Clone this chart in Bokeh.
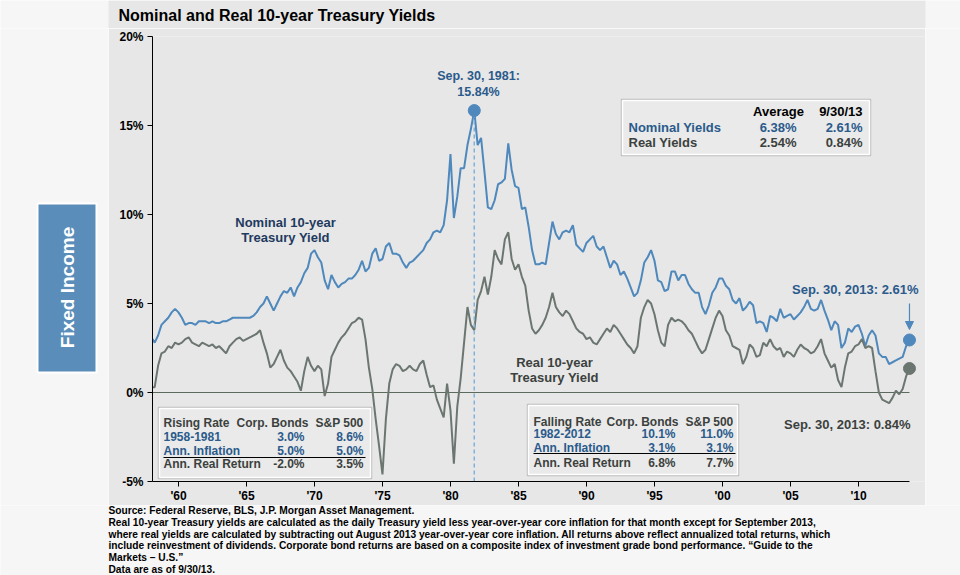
import math
from bokeh.plotting import figure
from bokeh.layouts import row, column
from bokeh.models import Range1d, FixedTicker, Label, Arrow, NormalHead
from bokeh.embed import file_html
from bokeh.resources import INLINE

# ---------------- data (quarterly readings, 1958 Q1 .. 2013 Q3) ----------------
years = list(range(1958, 2014))
quarters = [0.0, 0.25, 0.5, 0.75]

nominal_yield = [
    3.1, 2.8, 3.2, 3.8,   4.0, 4.2, 4.5, 4.7,   4.5, 4.2, 3.8, 3.9,   3.9, 3.8, 4.0, 4.0,
    4.0, 3.9, 4.0, 3.9,   3.9, 4.0, 4.0, 4.1,   4.2, 4.2, 4.2, 4.2,   4.2, 4.2, 4.3, 4.5,
    4.8, 5.0, 5.4, 5.0,   4.6, 5.0, 5.4, 5.7,   5.6, 5.9, 5.4, 5.9,   6.2, 6.7, 7.0, 7.8,
    8.0, 7.6, 7.3, 6.3,   5.8, 6.6, 6.2, 5.9,   6.1, 6.2, 6.4, 6.4,   6.6, 6.9, 7.4, 6.8,
    7.0, 7.8, 8.1, 7.4,   7.5, 8.2, 8.4, 7.8,   7.8, 7.7, 7.3, 7.0,   7.3, 7.4, 7.6, 7.8,
    8.0, 8.4, 8.6, 9.0,   9.1, 9.0, 9.4, 10.8,  13.4, 9.8, 11.0, 12.6, 12.6, 13.9, 14.8, 15.84,
    13.9, 14.3, 12.4, 10.4, 10.3, 10.8, 11.7, 11.8, 12.0, 14.0, 12.5, 11.6, 11.5, 10.3, 10.4, 9.3,
    8.0, 7.2, 7.2, 7.3,   7.2, 8.4, 9.6, 8.9,   8.6, 9.0, 9.1, 9.0,   9.4, 8.3, 8.1, 7.9,
    8.4, 8.6, 8.8, 8.2,   8.0, 8.2, 7.6, 7.0,   7.4, 7.2, 6.6, 6.8,   6.4, 5.9, 5.4, 5.6,
    6.3, 7.3, 7.6, 8.0,   7.4, 6.3, 6.2, 5.7,   5.8, 6.8, 6.8, 6.3,   6.6, 6.6, 6.1, 5.8,
    5.6, 5.6, 4.8, 4.4,   4.9, 5.6, 5.9, 6.4,   6.4, 6.0, 5.8, 5.2,   5.0, 5.3, 4.6, 4.8,
    5.1, 4.9, 3.9, 4.0,   3.9, 3.4, 4.3, 4.2,   4.0, 4.7, 4.2, 4.3,   4.4, 4.1, 4.3, 4.5,
    4.8, 5.2, 4.7, 4.6,   4.7, 5.2, 4.6, 4.1,   3.5, 4.0, 3.8, 2.5,   2.8, 3.6, 3.4, 3.7,
    3.8, 3.3, 2.6, 3.2,   3.5, 3.2, 2.2, 2.0,   2.0, 1.6, 1.7, 1.8,   1.9, 2.0, 2.6, 2.95,
]

real_yield = [
    0.3, 0.3, 1.5, 2.2,   2.3, 2.6, 2.5, 2.8,   2.7, 2.8, 3.0, 3.1,   2.8, 2.7, 2.6, 2.8,
    2.7, 2.6, 2.7, 2.5,   2.6, 2.4, 2.2, 2.6,   2.8, 3.0, 3.1, 2.9,   3.0, 3.1, 3.2, 3.3,
    3.5, 2.8, 2.2, 1.4,   1.6, 2.0, 2.4, 1.8,   1.4, 1.2, 0.9, 0.6,   0.1, 1.2, 2.0, 1.5,
    1.2, 1.5, 1.3, -0.2,  0.5, 2.0, 2.4, 2.8,   3.1, 3.3, 3.6, 3.9,   4.0, 4.2, 4.1, 3.0,
    1.4, 0.2, -1.5, -3.0, -4.6, -1.5, 0.5, 1.3, 1.6, 1.5, 1.2, 1.3,   1.5, 1.3, 1.2, 1.6,
    1.8, 1.0, 0.3, 0.4,   -0.4, -0.9, -1.4, 0.5, -1.0, -4.0, -0.8, 0.8, 2.8, 4.8, 3.8, 3.5,
    5.2, 5.7, 6.5, 5.5,   6.5, 8.0, 7.5, 7.2,   8.6, 9.0, 7.5, 6.9,   7.2, 6.5, 6.0, 4.6,
    3.6, 3.3, 3.5, 3.8,   4.2, 4.8, 5.6, 4.8,   4.5, 4.3, 4.6, 4.4,   4.0, 3.6, 3.4, 3.3,
    3.0, 3.1, 2.8, 2.7,   3.0, 3.3, 3.6, 3.4,   3.8, 3.6, 3.3, 3.0,   2.7, 2.5, 2.2, 2.6,
    4.2, 4.8, 5.2, 5.0,   4.4, 3.5, 2.8, 2.6,   3.8, 4.2, 4.0, 4.1,   4.0, 3.8, 3.5, 3.3,
    2.9, 2.5, 2.2, 2.4,   3.0, 3.6, 4.2, 4.6,   4.3, 3.5, 3.2, 2.6,   2.5, 2.4, 1.6, 2.0,
    2.7, 2.5, 2.0, 2.1,   2.8, 2.6, 3.0, 2.6,   2.4, 2.5, 2.0, 2.3,   2.2, 2.0, 2.4, 2.7,
    2.5, 2.4, 2.2, 2.3,   2.6, 3.0, 2.2, 1.8,   1.4, 1.6, 0.7, 0.3,   1.4, 2.2, 2.3, 2.6,
    2.7, 3.0, 2.5, 2.6,   2.5, 1.2, 0.0, -0.4,  -0.5, -0.6, -0.3, 0.1, -0.1, 0.2, 0.9, 1.35,
]

tick_years = [1960, 1965, 1970, 1975, 1980, 1985, 1990, 1995, 2000, 2005, 2010]
tick_labels = ["'60", "'65", "'70", "'75", "'80", "'85", "'90", "'95", "'00", "'05", "'10"]
y_ticks = [-5, 0, 5, 10, 15, 20]
y_tick_labels = ["-5%", "0%", "5%", "10%", "15%", "20%"]

avg_header = ["Average", "9/30/13"]
avg_rows = [["Nominal Yields", "6.38%", "2.61%"], ["Real Yields", "2.54%", "0.84%"]]
rising_rows = [["Rising Rate", "Corp. Bonds", "S&P 500"], ["1958-1981", "3.0%", "8.6%"],
               ["Ann. Inflation", "5.0%", "5.0%"], ["Ann. Real Return", "-2.0%", "3.5%"]]
falling_rows = [["Falling Rate", "Corp. Bonds", "S&P 500"], ["1982-2012", "10.1%", "11.0%"],
                ["Ann. Inflation", "3.1%", "3.1%"], ["Ann. Real Return", "6.8%", "7.7%"]]

footnote = [
    "Source: Federal Reserve, BLS, J.P. Morgan Asset Management.",
    "Real 10-year Treasury yields are calculated as the daily Treasury yield less year-over-year core inflation for that month except for September 2013,",
    "where real yields are calculated by subtracting out August 2013 year-over-year core inflation. All returns above reflect annualized total returns, which",
    "include reinvestment of dividends. Corporate bond returns are based on a composite index of investment grade bond performance. \u201cGuide to the",
    "Markets \u2013 U.S.\u201d",
    "Data are as of 9/30/13.",
]

t = [y + q for y in years for q in quarters]

# ---------------- styling ----------------
BG = "#E6E7E6"
OUT = "#F6F6F6"
BLUE = "#4F88BC"
GREY = "#6C7671"
TXT_BLUE = "#2B5A8C"
TXT_NAVY = "#1F3A60"
TXT_GREY = "#3C413E"
FONT = "Liberation Sans"

# page geometry (pixels)
W, H = 960, 575
GL, GR, GB = 108, 925, 505          # grey panel: x 108..925, y 0..505
FL, FR, FT, FB = 152, 925, 36, 481  # plot frame inside it
TITLE_H = 28
X0 = 1958.09
PPY = 13.6
x_end = X0 + (FR - FL) / PPY


def X(px):
    return X0 + (px - FL) / PPY


def Y(py):
    return 20 - (py - FT) * 25.0 / (FB - FT)


def blank(w, h, xr, yr, bg):
    f = figure(width=w, height=h, x_range=Range1d(*xr), y_range=Range1d(*yr),
               output_backend="svg", toolbar_location=None, min_border=0,
               background_fill_color=bg, border_fill_color=bg)
    f.axis.visible = False
    f.grid.visible = False
    f.outline_line_color = None
    return f


def put(fig, text, x, y, align="left", size="12px", style="bold", color="black", font=FONT, angle=0.0):
    fig.add_layout(Label(x=x, y=y, text=text, text_align=align, text_baseline="middle",
                         text_font=font, text_font_size=size, text_font_style=style,
                         text_color=color, angle=angle))


# ---------------- title strip (full width) ----------------
top = blank(W, TITLE_H, (0, W), (TITLE_H, 0), OUT)
top.quad(left=[GL], right=[GR], top=[0], bottom=[TITLE_H], fill_color=BG, line_color=None)
put(top, "Nominal and Real 10-year Treasury Yields", 118, 15, size="16px")

# ---------------- left strip with the section tab ----------------
left = blank(GL, GB - TITLE_H, (0, GL), (GB, TITLE_H), OUT)
left.quad(left=[37], right=[96], top=[203], bottom=[372],
          fill_color="#5A8DBA", line_color="white", line_width=2)
put(left, "Fixed Income", 67, 287, align="center", size="19px", color="white", angle=math.pi / 2)

# ---------------- main chart ----------------
p = figure(width=GR - GL, height=GB - TITLE_H, x_range=Range1d(X0, x_end), y_range=Range1d(-5, 20),
           output_backend="svg", toolbar_location=None,
           min_border_left=FL - GL, min_border_right=GR - FR,
           min_border_top=FT - TITLE_H, min_border_bottom=GB - FB,
           background_fill_color=BG, border_fill_color=BG)
p.outline_line_color = None
p.xgrid.visible = False
p.ygrid.visible = False

for ax in (p.xaxis, p.yaxis):
    ax.axis_line_color = "black"
    ax.axis_line_width = 1
    ax.major_tick_line_color = "black"
    ax.major_tick_out = 5
    ax.major_tick_in = 0
    ax.minor_tick_line_color = None
    ax.major_label_text_font = FONT
    ax.major_label_text_font_style = "bold"
    ax.major_label_text_font_size = "12px"
    ax.major_label_text_color = "black"
p.xaxis.ticker = FixedTicker(ticks=tick_years)
p.xaxis.major_label_overrides = dict(zip(tick_years, tick_labels))
p.xaxis.major_label_standoff = 2
p.xaxis.bounds = (X0, t[-1])
p.yaxis.ticker = FixedTicker(ticks=y_ticks)
p.yaxis.major_label_overrides = dict(zip(y_ticks, y_tick_labels))
p.yaxis.major_label_standoff = 4

# zero line
p.segment(x0=[X0], y0=[0], x1=[t[-1]], y1=[0], line_color="#5C6A5E", line_width=1)

p.line(t, nominal_yield, line_color=BLUE, line_width=2)
p.line(t, real_yield, line_color=GREY, line_width=2)

ipk = max(range(len(nominal_yield)), key=lambda i: nominal_yield[i])
p.segment(x0=[t[ipk]], y0=[-5], x1=[t[ipk]], y1=[nominal_yield[ipk]],
          line_color="#7FB2DA", line_dash="4 3", line_width=1.5)
p.scatter([t[ipk], t[-1]], [nominal_yield[ipk], nominal_yield[-1]], size=12,
          fill_color=BLUE, line_color=BLUE)
p.scatter([t[-1]], [real_yield[-1]], size=12, fill_color=GREY, line_color=GREY)

p.add_layout(Arrow(x_start=t[-1], y_start=Y(303), x_end=t[-1], y_end=Y(329),
                   line_color=BLUE, line_width=1.2,
                   end=NormalHead(size=8, fill_color=BLUE, line_color=BLUE)))


def lab(text, px, py, **kw):
    put(p, text, X(px), Y(py), **kw)


def box(l, r, t_, b):
    p.quad(left=[X(l - 1)], right=[X(r + 1)], top=[Y(t_ - 1)], bottom=[Y(b + 1)],
           fill_color=None, line_color="#BDBDBD", line_width=1.5)
    p.quad(left=[X(l)], right=[X(r)], top=[Y(t_)], bottom=[Y(b)],
           fill_color="#E9EAE9", line_color="white", line_width=1.5)


lab("Sep. 30, 1981:", 478, 75, align="center", color=TXT_BLUE, size="12.5px")
lab("15.84%", 478, 91, align="center", color=TXT_BLUE, size="12.5px")
lab("Nominal 10-year", 285, 222, align="center", color=TXT_NAVY, size="13px")
lab("Treasury Yield", 285, 237, align="center", color=TXT_NAVY, size="13px")
lab("Real 10-year", 554, 362, align="center", color=TXT_GREY, size="13px")
lab("Treasury Yield", 554, 377, align="center", color=TXT_GREY, size="13px")
lab("Sep. 30, 2013: 2.61%", 918, 289, align="right", color=TXT_BLUE, size="13px")
lab("Sep. 30, 2013: 0.84%", 910, 424, align="right", color=TXT_GREY, size="13px")

box(622, 869, 100, 154)
lab(avg_header[0], 778, 111, align="center", color="black", size="13px")
lab(avg_header[1], 862, 111, align="right", color="black", size="13px")
for r_, py, col in zip(avg_rows, [127, 142], [TXT_BLUE, TXT_GREY]):
    lab(r_[0], 628, py, color=col, size="13px")
    lab(r_[1], 796, py, align="right", color=col, size="13px")
    lab(r_[2], 862, py, align="right", color=col, size="13px")


def table(rows, l, r, t_, b, xs, ys, yline):
    box(l, r, t_, b)
    cols = [TXT_GREY, TXT_BLUE, TXT_BLUE, TXT_GREY]
    for i, (rw, py) in enumerate(zip(rows, ys)):
        lab(rw[0], xs[0], py, color=cols[i], size="12px")
        lab(rw[1], xs[1] if i == 0 else xs[2], py, align="right", color=cols[i], size="12px")
        lab(rw[2], xs[3], py, align="right", color=cols[i], size="12px")
    p.segment(x0=[X(xs[0])], y0=[Y(yline)], x1=[X(xs[3] + 2)], y1=[Y(yline)],
              line_color="black", line_width=1)


table(rising_rows, 159, 370, 408, 477, [163, 308, 304, 363], [422, 436, 450, 463], 457)
table(falling_rows, 528, 737, 405, 474, [533, 678, 675, 733], [421, 433, 447, 462], 453)

# ---------------- right strip and footnote ----------------
right = blank(W - GR, GB - TITLE_H, (0, W - GR), (GB, TITLE_H), OUT)
right.scatter([0], [0], size=0, alpha=0)
foot = blank(W, H - GB, (0, W), (H, GB), OUT)
for i, line in enumerate(footnote):
    put(foot, line, 108, 510 + 11.8 * i, size="10.2px", style="bold")

page = column(top, row(left, column(p), right), foot)
open("out.html", "w").write(file_html(page, INLINE))
